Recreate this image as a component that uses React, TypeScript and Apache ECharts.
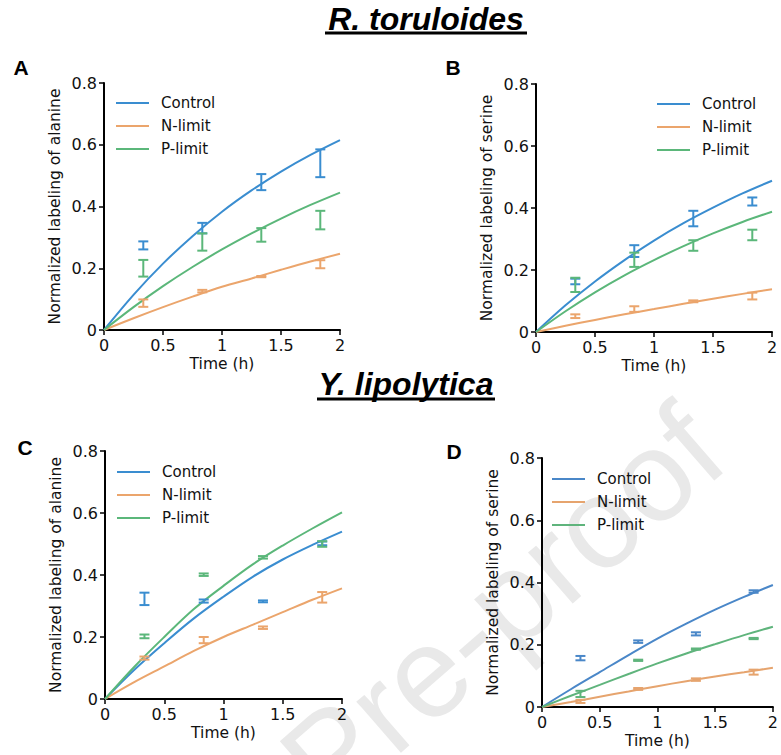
import React, { useEffect, useRef } from "react";
import * as echarts from "echarts";

// Time points of the fitted curves and of the measured samples (h)
const fitTime = [0, 0.25, 0.5, 0.75, 1, 1.25, 1.5, 1.75, 2];
const sampleTime = [0.333, 0.833, 1.333, 1.833];
const conditions = ["Control", "N-limit", "P-limit"];
const xTicks = [0, 0.5, 1, 1.5, 2];
const yTicks = [0, 0.2, 0.4, 0.6, 0.8];

// A: R. toruloides, alanine
const aControlFit = [0, 0.114, 0.215, 0.304, 0.383, 0.452, 0.513, 0.567, 0.615];
const aNLimitFit = [0, 0.038, 0.074, 0.108, 0.14, 0.167, 0.195, 0.222, 0.247];
const aPLimitFit = [0, 0.074, 0.142, 0.204, 0.261, 0.313, 0.361, 0.405, 0.445];
const aControlMean = [0.274, 0.33, 0.479, 0.54];
const aControlErr = [0.013, 0.017, 0.026, 0.045];
const aNLimitMean = [0.087, 0.126, 0.173, 0.213];
const aNLimitErr = [0.012, 0.004, 0.002, 0.013];
const aPLimitMean = [0.2, 0.285, 0.308, 0.356];
const aPLimitErr = [0.027, 0.028, 0.022, 0.03];

// B: R. toruloides, serine
const bControlFit = [0, 0.086, 0.163, 0.232, 0.295, 0.351, 0.401, 0.447, 0.488];
const bNLimitFit = [0, 0.02, 0.039, 0.057, 0.074, 0.091, 0.107, 0.123, 0.138];
const bPLimitFit = [0, 0.067, 0.128, 0.183, 0.232, 0.277, 0.318, 0.355, 0.388];
const bControlMean = [0.163, 0.261, 0.366, 0.421];
const bControlErr = [0.009, 0.019, 0.025, 0.013];
const bNLimitMean = [0.051, 0.074, 0.099, 0.116];
const bNLimitErr = [0.006, 0.009, 0.003, 0.011];
const bPLimitMean = [0.152, 0.233, 0.279, 0.313];
const bPLimitErr = [0.023, 0.023, 0.017, 0.017];

// C: Y. lipolytica, alanine
const cControlFit = [0, 0.095, 0.18, 0.26, 0.33, 0.395, 0.45, 0.497, 0.54];
const cNLimitFit = [0, 0.055, 0.105, 0.155, 0.2, 0.24, 0.28, 0.32, 0.357];
const cPLimitFit = [0, 0.105, 0.2, 0.29, 0.365, 0.435, 0.495, 0.55, 0.602];
const cControlMean = [0.323, 0.316, 0.315, 0.502];
const cControlErr = [0.02, 0.005, 0.003, 0.006];
const cNLimitMean = [0.132, 0.19, 0.23, 0.328];
const cNLimitErr = [0.005, 0.01, 0.004, 0.017];
const cPLimitMean = [0.202, 0.401, 0.457, 0.5];
const cPLimitErr = [0.006, 0.004, 0.004, 0.009];

// D: Y. lipolytica, serine
const dControlFit = [0, 0.057, 0.112, 0.167, 0.22, 0.268, 0.313, 0.354, 0.392];
const dNLimitFit = [0, 0.016, 0.033, 0.05, 0.067, 0.083, 0.098, 0.112, 0.126];
const dPLimitFit = [0, 0.036, 0.071, 0.106, 0.14, 0.172, 0.202, 0.231, 0.258];
const dControlMean = [0.157, 0.21, 0.235, 0.371];
const dControlErr = [0.007, 0.004, 0.005, 0.004];
const dNLimitMean = [0.018, 0.058, 0.088, 0.112];
const dNLimitErr = [0.005, 0.003, 0.004, 0.008];
const dPLimitMean = [0.042, 0.15, 0.186, 0.22];
const dPLimitErr = [0.01, 0.002, 0.002, 0.002];

const COLORS = ["#3a8dd0", "#eba56c", "#5bb77a"];
const FONT = "DejaVu Sans";
const INK = "#111";

type Panel = {
  grid: { left: number; top: number; width: number; height: number };
  yName: string;
  legend: { left: number; top: number };
  fits: number[][];
  means: number[][];
  errs: number[][];
  colors: string[];
};

const panels: Panel[] = [
  {
    grid: { left: 104, top: 83, width: 236, height: 247 },
    yName: "Normalized labeling of alanine",
    legend: { left: 116, top: 94 },
    fits: [aControlFit, aNLimitFit, aPLimitFit],
    means: [aControlMean, aNLimitMean, aPLimitMean],
    errs: [aControlErr, aNLimitErr, aPLimitErr],
    colors: COLORS,
  },
  {
    grid: { left: 536, top: 84, width: 236, height: 248 },
    yName: "Normalized labeling of serine",
    legend: { left: 657, top: 95 },
    fits: [bControlFit, bNLimitFit, bPLimitFit],
    means: [bControlMean, bNLimitMean, bPLimitMean],
    errs: [bControlErr, bNLimitErr, bPLimitErr],
    colors: COLORS,
  },
  {
    grid: { left: 105, top: 451, width: 237, height: 248 },
    yName: "Normalized labeling of alanine",
    legend: { left: 117, top: 463 },
    fits: [cControlFit, cNLimitFit, cPLimitFit],
    means: [cControlMean, cNLimitMean, cPLimitMean],
    errs: [cControlErr, cNLimitErr, cPLimitErr],
    colors: COLORS,
  },
  {
    grid: { left: 542, top: 458, width: 236, height: 249 },
    yName: "Normalized labeling of serine",
    legend: { left: 552, top: 470 },
    fits: [dControlFit, dNLimitFit, dPLimitFit],
    means: [dControlMean, dNLimitMean, dPLimitMean],
    errs: [dControlErr, dNLimitErr, dPLimitErr],
    colors: ["#4a87c8", "#e6a46e", "#5fb47c"],
  },
];

const errorBarRenderer = (color: string) => (params: any, api: any) => {
  const x = api.value(0);
  const top = api.coord([x, api.value(2)]);
  const bot = api.coord([x, api.value(1)]);
  const hw = 5;
  const style = { stroke: color, lineWidth: 2 };
  return {
    type: "group",
    children: [
      { type: "line", shape: { x1: top[0], y1: top[1], x2: bot[0], y2: bot[1] }, style },
      { type: "line", shape: { x1: top[0] - hw, y1: top[1], x2: top[0] + hw, y2: top[1] }, style },
      { type: "line", shape: { x1: bot[0] - hw, y1: bot[1], x2: bot[0] + hw, y2: bot[1] }, style },
    ],
  };
};

function buildOption() {
  const grid: any[] = [];
  const xAxis: any[] = [];
  const yAxis: any[] = [];
  const legend: any[] = [];
  const series: any[] = [];

  panels.forEach((p, i) => {
    grid.push({ ...p.grid, containLabel: false });
    xAxis.push({
      gridIndex: i,
      type: "value",
      min: xTicks[0],
      max: xTicks[xTicks.length - 1],
      interval: xTicks[1] - xTicks[0],
      name: "Time (h)",
      nameLocation: "middle",
      nameGap: 26,
      nameTextStyle: { fontFamily: FONT, fontSize: 15.5, color: INK },
      axisLine: { show: true, onZero: false, lineStyle: { color: "#000", width: 2 } },
      axisTick: { show: true, inside: false, length: 5, lineStyle: { color: "#000", width: 1.5 } },
      axisLabel: { fontFamily: FONT, fontSize: 16, color: INK, margin: 7 },
      splitLine: { show: false },
    });
    yAxis.push({
      gridIndex: i,
      type: "value",
      min: yTicks[0],
      max: yTicks[yTicks.length - 1],
      interval: yTicks[1] - yTicks[0],
      name: p.yName,
      nameLocation: "middle",
      nameGap: 41,
      nameTextStyle: { fontFamily: FONT, fontSize: 15.5, color: INK },
      axisLine: { show: true, onZero: false, lineStyle: { color: "#000", width: 2 } },
      axisTick: { show: true, inside: false, length: 5, lineStyle: { color: "#000", width: 1.5 } },
      axisLabel: { fontFamily: FONT, fontSize: 16, color: INK, margin: 7 },
      splitLine: { show: false },
    });
    legend.push({
      left: p.legend.left,
      top: p.legend.top,
      orient: "vertical",
      icon: "rect",
      itemWidth: 33,
      itemHeight: 2,
      itemGap: 5,
      padding: 0,
      selectedMode: false,
      textStyle: { fontFamily: FONT, fontSize: 15, color: INK, lineHeight: 18, padding: [0, 0, 0, 7] },
      data: conditions.map((c, k) => ({ name: c, itemStyle: { color: p.colors[k] } })),
    });
    conditions.forEach((c, k) => {
      series.push({
        name: c,
        type: "line",
        xAxisIndex: i,
        yAxisIndex: i,
        data: fitTime.map((t, j) => [t, p.fits[k][j]]),
        smooth: 0.35,
        showSymbol: false,
        symbol: "none",
        color: p.colors[k],
        lineStyle: { color: p.colors[k], width: 2 },
        z: 2,
      });
    });
    conditions.forEach((c, k) => {
      series.push({
        type: "custom",
        xAxisIndex: i,
        yAxisIndex: i,
        data: sampleTime.map((t, j) => [
          t,
          p.means[k][j] - p.errs[k][j],
          p.means[k][j] + p.errs[k][j],
        ]),
        encode: { x: 0, y: [1, 2] },
        renderItem: errorBarRenderer(p.colors[k]),
        z: 3,
      });
    });
  });

  const title = (text: string, x: number, y: number) => ({
    type: "text",
    x,
    y,
    style: {
      text,
      fill: "#000",
      font: "italic bold 32px 'Liberation Sans', Arial, sans-serif",
      textAlign: "center",
      textVerticalAlign: "middle",
    },
  });
  const underline = (x1: number, x2: number, y: number) => ({
    type: "line",
    shape: { x1, y1: y, x2, y2: y },
    style: { stroke: "#000", lineWidth: 3 },
  });
  const letter = (text: string, x: number, y: number) => ({
    type: "text",
    x,
    y,
    style: {
      text,
      fill: "#000",
      font: "bold 21px 'Liberation Sans', Arial, sans-serif",
      textAlign: "center",
      textVerticalAlign: "middle",
    },
  });

  const graphic: any[] = [
    {
      type: "text",
      x: 502,
      y: 606,
      rotation: (41 * Math.PI) / 180,
      z: -10,
      style: {
        text: "Pre-proof",
        fill: "#e9e9e9",
        font: "128px 'Liberation Sans', Arial, sans-serif",
        textAlign: "center",
        textVerticalAlign: "middle",
      },
    },
    title("R. toruloides", 426, 19),
    underline(325, 527, 33),
    title("Y. lipolytica", 406, 384),
    underline(317, 495, 399),
    letter("A", 21, 67),
    letter("B", 453, 67),
    letter("C", 25, 447),
    letter("D", 454, 451),
  ];

  return {
    animation: false,
    backgroundColor: "#fff",
    grid,
    xAxis,
    yAxis,
    legend,
    series,
    graphic,
  };
}

export default function App() {
  const ref = useRef<HTMLDivElement>(null);
  useEffect(() => {
    if (!ref.current) return;
    const chart = echarts.init(ref.current, undefined, { renderer: "svg" });
    chart.setOption(buildOption() as any);
    return () => chart.dispose();
  }, []);
  return (
    <div
      ref={ref}
      style={{ position: "fixed", left: 0, top: 0, width: 781, height: 755, background: "#fff" }}
    />
  );
}
